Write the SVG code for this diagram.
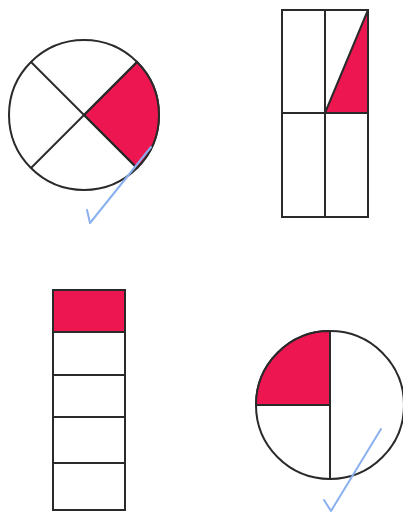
<svg xmlns="http://www.w3.org/2000/svg" width="403" height="512" viewBox="0 0 403 512">
<style>
.ln{fill:none;stroke:#2a2a2a;stroke-width:2}
.red{fill:#ee1650;stroke:#2a2a2a;stroke-width:2}
.wt{fill:#fff;stroke:#2a2a2a;stroke-width:2}
.chk{fill:none;stroke:#8ab0f0;stroke-width:2;stroke-linecap:round;stroke-linejoin:round}
</style>
<rect width="403" height="512" fill="#fff"/>
<g id="circle1">
<circle class="wt" cx="84" cy="115" r="75"/>
<path class="red" d="M84,115 L137,62 A75,75 0 0 1 137,168 Z"/>
<line class="ln" x1="31" y1="62" x2="137" y2="168"/>
<line class="ln" x1="31" y1="168" x2="137" y2="62"/>
</g>
<g id="rect2">
<rect class="wt" x="282" y="10" width="86" height="207"/>
<path class="red" d="M325,113 L368,10 L368,113 Z"/>
<line class="ln" x1="325" y1="10" x2="325" y2="217"/>
<line class="ln" x1="282" y1="113" x2="368" y2="113"/>
</g>
<g id="strip3">
<rect class="wt" x="53" y="290" width="72" height="220"/>
<rect class="red" x="53" y="290" width="72" height="42"/>
<line class="ln" x1="53" y1="375" x2="125" y2="375"/>
<line class="ln" x1="53" y1="417" x2="125" y2="417"/>
<line class="ln" x1="53" y1="463" x2="125" y2="463"/>
</g>
<g id="circle4">
<circle class="wt" cx="330" cy="405" r="74"/>
<path class="red" d="M330,405 L256,405 A74,74 0 0 1 330,331 Z"/>
<line class="ln" x1="330" y1="331" x2="330" y2="479"/>
</g>
<g id="checks">
<polyline class="chk" points="87,210 90,223 151,147"/>
<polyline class="chk" points="324,500 331,511 381,429"/>
</g>
</svg>
